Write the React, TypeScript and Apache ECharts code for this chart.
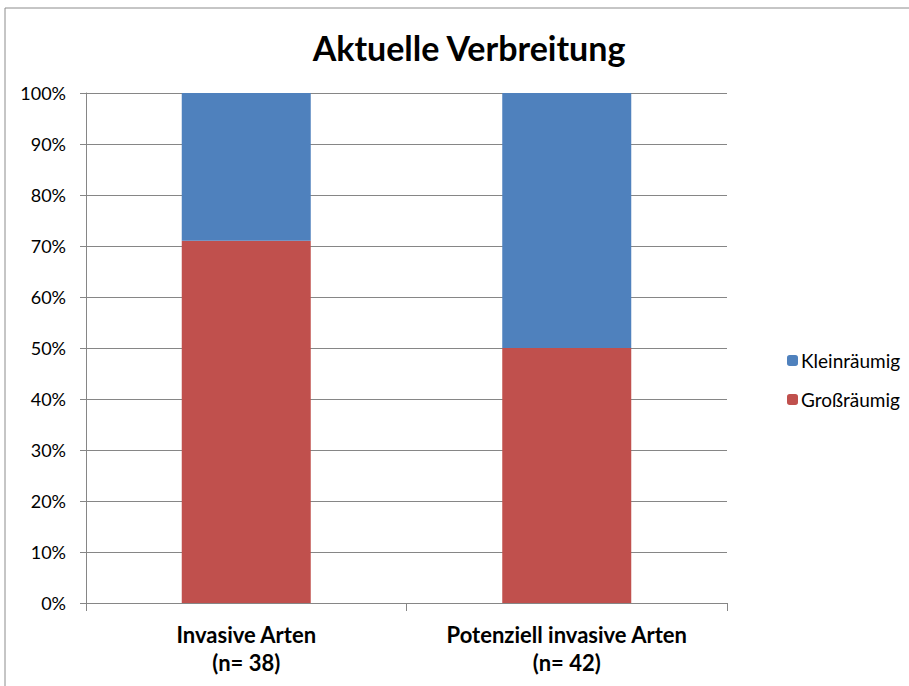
import React, { useEffect, useRef } from "react";
import * as echarts from "echarts";

const categories = ["Invasive Arten\n(n= 38)", "Potenziell invasive Arten\n(n= 42)"];
const grossraeumig = [71.05, 50];
const kleinraeumig = [28.95, 50];
const seriesNames = ["Kleinräumig", "Großräumig"];
const FONT = "Lato, 'Open Sans', sans-serif";

export default function App() {
  const ref = useRef<HTMLDivElement>(null);
  useEffect(() => {
    if (!ref.current) return;
    const chart = echarts.init(ref.current, null, { renderer: "svg" });
    chart.setOption({
      animation: false,
      backgroundColor: "#ffffff",
      title: {
        text: "Aktuelle Verbreitung",
        left: 464,
        textAlign: "center",
        top: 25,
        textStyle: { fontFamily: FONT, fontSize: 34, fontWeight: "bold", color: "#000" },
      },
      graphic: [
        {
          type: "rect",
          shape: { x: 5, y: 8, width: 920, height: 700 },
          style: { fill: "none", stroke: "#8c8c8c", lineWidth: 1 },
          silent: true,
        },
      ],
      legend: {
        orient: "vertical",
        left: 782,
        top: 346,
        itemWidth: 11,
        itemHeight: 11,
        itemGap: 20,
        data: seriesNames,
        textStyle: { fontFamily: FONT, fontSize: 19, color: "#000", padding: [0, 0, 0, -2] },
      },
      grid: { left: 86, right: 182, top: 93, bottom: 83, containLabel: false },
      xAxis: {
        type: "category",
        data: categories,
        axisLine: { show: true, lineStyle: { color: "#868686" } },
        axisTick: { show: true, length: 8, alignWithLabel: false, lineStyle: { color: "#868686" } },
        axisLabel: {
          interval: 0,
          fontFamily: FONT,
          fontSize: 22,
          fontWeight: "bold",
          color: "#000",
          margin: 17,
          lineHeight: 28,
        },
      },
      yAxis: {
        type: "value",
        min: 0,
        max: 100,
        interval: 10,
        axisLine: { show: true, lineStyle: { color: "#868686" } },
        axisTick: { show: true, length: 6, lineStyle: { color: "#868686" } },
        splitLine: { show: true, lineStyle: { color: "#868686" } },
        axisLabel: {
          formatter: "{value}%",
          fontFamily: FONT,
          fontSize: 18,
          color: "#000",
          margin: 20,
        },
      },
      series: [
        {
          name: "Großräumig",
          type: "bar",
          stack: "total",
          data: grossraeumig,
          barWidth: 129,
          itemStyle: { color: "#C0504D" },
        },
        {
          name: "Kleinräumig",
          type: "bar",
          stack: "total",
          data: kleinraeumig,
          barWidth: 129,
          itemStyle: { color: "#4F81BD" },
        },
      ],
    });
    return () => chart.dispose();
  }, []);
  return (
    <div
      ref={ref}
      style={{ position: "fixed", left: 0, top: 0, width: 909, height: 686 }}
    />
  );
}
